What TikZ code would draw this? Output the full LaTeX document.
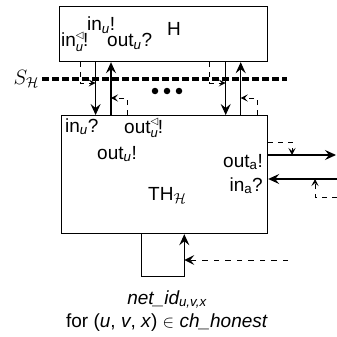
\documentclass[tikz,border=0pt]{standalone}
\usepackage{fontspec}
\setmainfont{Liberation Sans}
\newfontfamily\dejavu{DejaVu Sans}
\usetikzlibrary{arrows.meta}
\newcommand\ssub[1]{\textsubscript{\itshape #1}}
\newcommand\trisub[1]{\rlap{\raisebox{8.5pt}{\dejavu\fontsize{10}{10}\selectfont ◁}}\raisebox{-4.5pt}{\fontsize{13}{13}\selectfont\itshape #1}}
\begin{document}
\begin{tikzpicture}[x=1pt,y=-1pt,
  box/.style={draw,line width=1.2pt,inner sep=0pt,anchor=north west},
  arr/.style={line width=1.1pt,-{Stealth[length=11pt,width=10pt,inset=4pt]}},
  feed/.style={line width=0.9pt,dash pattern=on 5pt off 5pt,-{Stealth[length=7pt,width=7pt,inset=3pt]}},
  sep/.style={line width=3.3pt,dash pattern=on 6.5pt off 3.5pt},
  lbl/.style={font=\fontsize{19}{22}\selectfont,inner sep=0pt},
  dot/.style={circle,fill,inner sep=0pt,minimum size=6.5pt}]
\useasboundingbox (0,0) rectangle (337,337);
% boxes
\node[box,minimum width=208pt,minimum height=55pt] (H) at (59,6) {};
\node[box,minimum width=206pt,minimum height=118pt] (TH) at (61,115) {};
% labels in H
\node[lbl,anchor=base west] (l1) at (87,30.5) {in\ssub{u}!};
\node[lbl,anchor=base west] (lH) at (167,36) {H};
\node[lbl,anchor=base west] (l2) at (61,47) {in\trisub{u}!};
\node[lbl,anchor=base west] (l3) at (107,47) {out\ssub{u}?};
% labels in TH
\node[lbl,anchor=base west] (l4) at (65,132) {in\ssub{u}?};
\node[lbl,anchor=base west] (l5) at (124,133) {out\trisub{u}!};
\node[lbl,anchor=base west] (l6) at (97,159) {out\ssub{u}!};
\node[lbl,anchor=base east] (l7) at (263,167) {out\textsubscript{a}!};
\node[lbl,anchor=base east] (l8) at (263,191) {in\textsubscript{a}?};
\node[lbl,anchor=base west] (l9) at (148,200) {TH$_{\mathcal{H}}$};
% separator
\node[lbl,font=\fontsize{22}{24}\selectfont,anchor=base east] (S) at (39,84) {$S_{\mathcal{H}}$};
\coordinate (sepEnd) at (287,79);
\draw[sep] (42,0 |- sepEnd) -- (sepEnd);
% dots
\node[dot] (d1) at (155,91) {};
\node[dot] (d2) at (167,91) {};
\node[dot] (d3) at (179,91) {};
% x positions
\coordinate (xa) at (95.6,0);
\coordinate (xb) at (111,0);
\coordinate (xc) at (225.7,0);
\coordinate (xd) at (240.7,0);
\coordinate (fa) at (80,0);
\coordinate (fb) at (127,0);
\coordinate (fc) at (209.5,0);
\coordinate (fd) at (257,0);
% channel arrows
\draw[arr] (xa |- H.south) -- (xa |- TH.north);
\draw[arr] (xb |- TH.north) -- (xb |- H.south);
\draw[arr] (xc |- H.south) -- (xc |- TH.north);
\draw[arr] (xd |- TH.north) -- (xd |- H.south);
% feeders
\draw[feed] (fa |- H.south) |- (xa |- 0,83);
\draw[feed] (fb |- TH.north) |- (xb |- 0,98);
\draw[feed] (fc |- H.south) |- (xc |- 0,83);
\draw[feed] (fd |- TH.north) |- (xd |- 0,98);
% right side
\coordinate (outEnd) at (336,155);
\coordinate (inStart) at (337,179);
\draw[arr] (TH.east |- outEnd) -- (outEnd);
\draw[arr] (inStart) -- (TH.east |- inStart);
\draw[feed] (TH.east |- 0,142) -| (292,0 |- outEnd);
\coordinate (inFeed) at (337,197);
\draw[feed] (inFeed) -| (315,0 |- inStart);
% loop
\coordinate (xl) at (141.7,0);
\coordinate (xr) at (184.3,0);
\draw[arr] (xl |- TH.south) |- (xr |- 0,276.7) -- (xr |- TH.south);
\coordinate (loopFeed) at (288,260);
\draw[feed,dash pattern=on 5.5pt off 6pt,-{Stealth[length=10pt,width=10pt,inset=4pt]}] (loopFeed) -- (xr |- loopFeed);
% bottom text
\node[lbl,anchor=base,font=\fontsize{19}{22}\selectfont\itshape] (net) at (167,304) {net\_id\textsubscript{u,v,x}};
\node[lbl,anchor=base] (for) at (167,327) {for (\textit{u}, \textit{v}, \textit{x}) $\in$ \textit{ch\_honest}};
\end{tikzpicture}
\end{document}
